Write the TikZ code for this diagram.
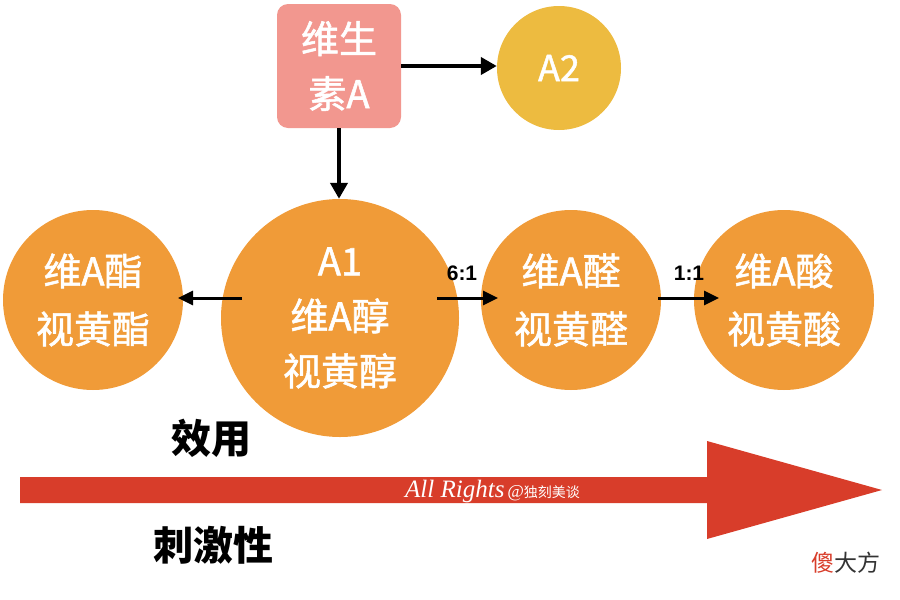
\documentclass[tikz,border=0pt]{standalone}
\usepackage{fontspec}
\setmainfont{Liberation Sans}
\newfontfamily\cjk{Noto Sans CJK SC}
\newfontfamily\cjkm[FakeBold=1.4]{Noto Sans CJK SC}
\newfontfamily\wmfont{Liberation Serif}
\usetikzlibrary{arrows.meta,calc}
\definecolor{boxpink}{HTML}{F2978F}
\definecolor{goldc}{HTML}{EDBB40}
\definecolor{orangec}{HTML}{F09B38}
\definecolor{redc}{HTML}{D83D2A}
\definecolor{grayt}{HTML}{333333}
\tikzset{
  orb/.style={circle,fill=orangec,text=white,inner sep=0pt,minimum size=180pt,align=center,
    font=\cjkm\fontsize{38}{58}\selectfont},
  bigarrow/.style={line width=4pt,-{Triangle[length=16pt,width=17pt]}},
  smallarrow/.style={line width=3pt,-{Triangle[length=15pt,width=14pt]}},
  ratio/.style={font=\bfseries\fontsize{21}{22}\selectfont,text=black,inner sep=0pt},
  bigword/.style={font=\cjk\bfseries\fontsize{40}{42}\selectfont,text=black,inner sep=0pt}
}
\begin{document}
\begin{tikzpicture}[x=1pt,y=-1pt]
\useasboundingbox (0,0) rectangle (900,600);
% nodes
\node[rectangle,rounded corners=11pt,fill=boxpink,text=white,minimum width=124pt,minimum height=124pt,
  align=center,inner sep=0pt,font=\cjkm\fontsize{38}{55}\selectfont] (vitA) at (339,66) {维生\\素A};
\node[circle,fill=goldc,text=white,minimum size=124pt,inner sep=0pt,
  font=\cjkm\fontsize{36}{38}\selectfont] (a2) at (559,68) {A2};
\node[orb,minimum size=238pt,font=\cjkm\fontsize{38}{55}\selectfont] (a1) at (340,318) {A1\\维A醇\\视黄醇};
\node[orb] (ester) at (93,300) {维A酯\\视黄酯};
\node[orb] (ald) at (571,300) {维A醛\\视黄醛};
\node[orb] (acid) at (784,300) {维A酸\\视黄酸};
% connectors
\draw[bigarrow] (vitA.east) -- (vitA.east -| a2.west);
\draw[bigarrow] (vitA.south) -- (vitA.south |- a1.north);
\coordinate (l1) at ($(a1.center)+(-98,-20)$);
\coordinate (l2) at ($(ester.center)+(85,-2)$);
\draw[smallarrow] (l1) -- (l2);
\coordinate (r1) at ($(a1.center)+(97,-20)$);
\coordinate (r2) at ($(ald.center)+(-73,-2)$);
\draw[smallarrow] (r1) -- (r2);
\node[ratio] (lab61) at (462,273) {6:1};
\coordinate (s1) at ($(ald.center)+(87,-2)$);
\coordinate (s2) at ($(acid.center)+(-65,-2)$);
\draw[smallarrow] (s1) -- (s2);
\node[ratio] (lab11) at (689,273) {1:1};
% labels
\node[bigword] (eff) at (211,438) {效用};
\node[bigword] (irr) at (213,545) {刺激性};
% big red arrow
\fill[redc] (20,477) -- (707,477) -- (707,441) -- (882,490) -- (707,539) -- (707,503) -- (20,503) -- cycle;
% watermark
\node[text=white,inner sep=0pt,anchor=west] (wm) at (405,491)
  {{\wmfont\itshape\fontsize{25}{26}\selectfont All Rights} {\wmfont\itshape\fontsize{18}{18}\selectfont @}{\cjk\fontsize{14}{16}\selectfont 独刻美谈}};
% signature
\node[inner sep=0pt,anchor=east,font=\cjk\fontsize{23}{25}\selectfont] (sig) at (881,563)
  {\textcolor{redc}{傻}\textcolor{grayt}{大方}};
\end{tikzpicture}
\end{document}
